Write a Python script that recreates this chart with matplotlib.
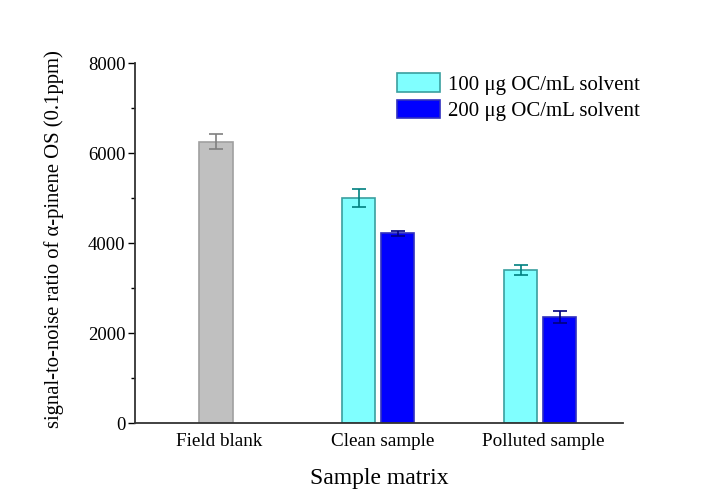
import matplotlib
matplotlib.use("Agg")
import matplotlib.pyplot as plt
from matplotlib.patches import Patch
from matplotlib.ticker import MultipleLocator

categories = ["Field blank", "Clean sample", "Polluted sample"]
blank_value = [6250]
blank_err = [170]
s100_values = [5000, 3400]
s100_err = [190, 120]
s200_values = [4220, 2355]
s200_err = [55, 140]
series_labels = ["100 \u03bcg OC/mL solvent", "200 \u03bcg OC/mL solvent"]

plt.rcParams['font.family'] = ['Liberation Serif', 'DejaVu Serif']

fig = plt.figure(figsize=(7.07, 5.01), dpi=100)
ax = fig.add_axes([135/707, 1-423/501, 488/707, 360/501])

w = 0.205
off = 0.12
ax.bar([0], blank_value, width=w, color="#c0c0c0", edgecolor="#a0a0a0", linewidth=1.2,
       yerr=blank_err, ecolor="#808080", capsize=5, error_kw=dict(elinewidth=1.2, capthick=1.2))
ax.bar([1-off, 2-off], s100_values, width=w, color="#80ffff", edgecolor="#3aa0a0", linewidth=1.2,
       yerr=s100_err, ecolor="#008080", capsize=5, error_kw=dict(elinewidth=1.2, capthick=1.2))
ax.bar([1+off, 2+off], s200_values, width=w, color="#0000ff", edgecolor="#3030c0", linewidth=1.2,
       yerr=s200_err, ecolor="#000080", capsize=5, error_kw=dict(elinewidth=1.2, capthick=1.2))

ax.set_xlim(-0.5, 2.51)
ax.set_ylim(0, 8000)
ax.set_xticks([0.02, 1.03, 2.02])
ax.set_xticklabels(categories, fontsize=13.8)
ax.tick_params(axis='x', length=0, pad=7)
ax.yaxis.set_major_locator(MultipleLocator(2000))
ax.yaxis.set_minor_locator(MultipleLocator(1000))
ax.tick_params(axis='y', which='major', length=5, width=1, labelsize=13.5, direction='out', pad=2)
ax.tick_params(axis='y', which='minor', length=3, width=1, direction='out')
for s in ['top', 'right']:
    ax.spines[s].set_visible(False)
for s in ['left', 'bottom']:
    ax.spines[s].set_linewidth(1.3)
    ax.spines[s].set_color("#333333")

ax.set_ylabel("signal-to-noise ratio of \u03b1-pinene OS (0.1ppm)", fontsize=14.9)
ax.yaxis.set_label_coords(-0.146, 0.51)
ax.set_xlabel("Sample matrix", fontsize=17, labelpad=13)

handles = [Patch(facecolor="#80ffff", edgecolor="#3aa0a0", linewidth=1.2),
           Patch(facecolor="#0000ff", edgecolor="#3030c0", linewidth=1.2)]
ax.legend(handles, series_labels, loc='upper left', bbox_to_anchor=(254/488, 0.994),
          frameon=False, fontsize=15, handlelength=2.07, handleheight=1.0,
          handletextpad=0.34, labelspacing=0.22, borderaxespad=0)

fig.savefig("out.png", dpi=100, facecolor="white")
